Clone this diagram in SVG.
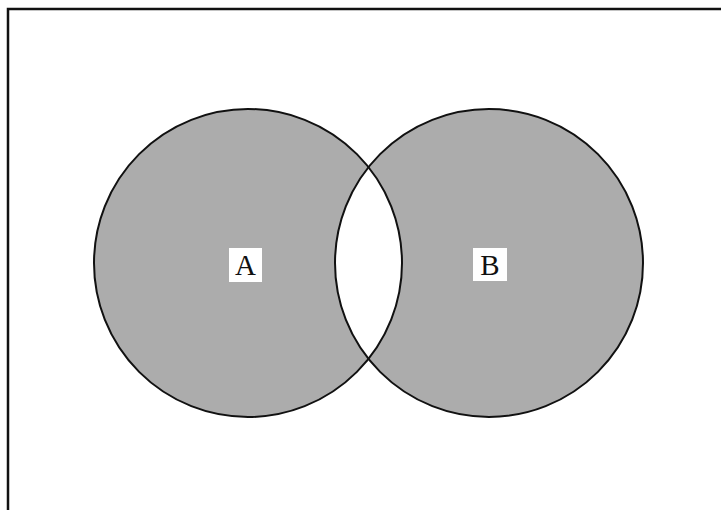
<svg xmlns="http://www.w3.org/2000/svg" width="721" height="510" viewBox="0 0 721 510">
<style>
.set{fill:#acacac;stroke:none}
.edge{fill:none;stroke:#111;stroke-width:2}
.lbl{font-family:"Liberation Serif",serif;font-size:29px;fill:#111;text-anchor:middle}
.box{fill:#fff}
</style>
<defs>
<clipPath id="clipA"><circle cx="248" cy="263" r="154"/></clipPath>
</defs>
<rect width="721" height="510" fill="#fff"/>
<path d="M8,510 V9 H721" fill="none" stroke="#111" stroke-width="2.5"/>
<g id="setA"><circle class="set" cx="248" cy="263" r="154"/></g>
<g id="setB"><circle class="set" cx="489" cy="263" r="154"/></g>
<g id="intersection"><circle cx="489" cy="263" r="154" fill="#fff" clip-path="url(#clipA)"/></g>
<g id="outlines">
<circle class="edge" cx="248" cy="263" r="154"/>
<circle class="edge" cx="489" cy="263" r="154"/>
</g>
<g id="labelA"><rect class="box" x="229" y="248" width="33" height="34"/><text class="lbl" x="245.5" y="275">A</text></g>
<g id="labelB"><rect class="box" x="473" y="248" width="34" height="33"/><text class="lbl" x="490" y="275">B</text></g>
</svg>
